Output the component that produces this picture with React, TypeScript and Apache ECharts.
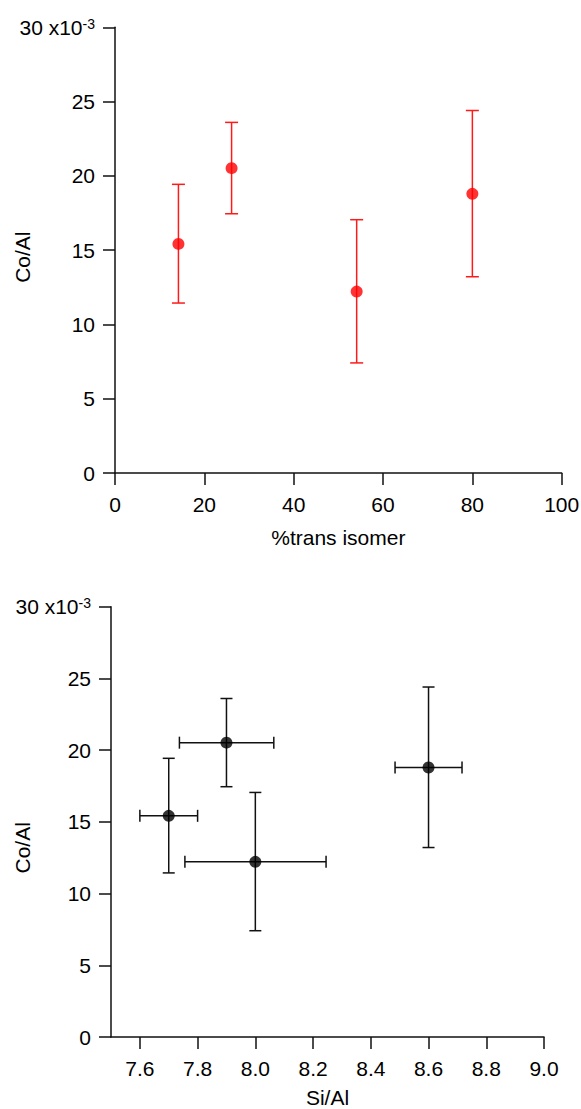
import { useEffect, useRef } from 'react';
import * as echarts from 'echarts';

// Co/Al ratios in units of 1e-3 (shared by both panels)
const coAl = [15.42, 20.52, 12.21, 18.79];
const coAlLo = [11.44, 17.45, 7.41, 13.21];
const coAlHi = [19.43, 23.6, 17.05, 24.4];

// Upper panel: percentage of trans isomer
const transIsomerPct = [14.2, 26.1, 54.1, 80.0];

// Lower panel: Si/Al ratio with its uncertainty range
const siAl = [7.7, 7.9, 8.0, 8.6];
const siAlLo = [7.6, 7.737, 7.756, 8.484];
const siAlHi = [7.8, 8.064, 8.245, 8.716];

const transTicks = [0, 20, 40, 60, 80, 100];
const siAlTicks = [7.6, 7.8, 8.0, 8.2, 8.4, 8.6, 8.8, 9.0];
const coAlTickStep = 5;

const FONT = '"Liberation Sans", Arial, Helvetica, sans-serif';
const AXIS_COLOR = '#111';

function yAxisFor(gridIndex: number, gap: number, shift: number) {
  return {
    type: 'value',
    gridIndex,
    min: 0,
    max: 30,
    interval: coAlTickStep,
    name: 'Co/Al',
    nameLocation: 'middle',
    nameGap: gap,
    nameRotate: 90,
    nameMoveOverlap: false,
    nameTextStyle: {
      fontFamily: FONT,
      fontSize: 21,
      color: '#000',
      padding: [0, shift * 2, 0, 0],
    },
    axisLine: { show: true, onZero: false, lineStyle: { color: AXIS_COLOR, width: 1.5 } },
    axisTick: { show: true, inside: false, length: 12, lineStyle: { color: AXIS_COLOR, width: 1.5 } },
    splitLine: { show: false },
    axisLabel: {
      margin: 20,
      fontFamily: FONT,
      fontSize: 21,
      color: '#000',
      showMinLabel: true,
      showMaxLabel: true,
      formatter: (v: number) => (v === 30 ? '{b|30 x10}{sup|-3}' : String(v)),
      rich: {
        b: { fontFamily: FONT, fontSize: 21, lineHeight: 21, color: '#000', verticalAlign: 'bottom' },
        sup: {
          fontFamily: FONT,
          fontSize: 14,
          lineHeight: 14,
          color: '#000',
          verticalAlign: 'top',
          padding: [0, 0, 13, 0],
        },
      },
    },
  };
}

const lineSeg = (x1: number, y1: number, x2: number, y2: number, color: string) => ({
  type: 'line',
  shape: { x1, y1, x2, y2 },
  style: { stroke: color, lineWidth: 1.5 },
});

export default function App() {
  const ref = useRef<HTMLDivElement>(null);

  useEffect(() => {
    if (!ref.current) return;
    const chart = echarts.init(ref.current, undefined, { renderer: 'svg' });

    const topData = transIsomerPct.map((x, i) => [x, coAl[i], coAlLo[i], coAlHi[i]]);
    const bottomData = siAl.map((x, i) => [x, coAl[i], coAlLo[i], coAlHi[i], siAlLo[i], siAlHi[i]]);

    const option = {
      animation: false,
      backgroundColor: '#fff',
      grid: [
        { left: 115, top: 27.3, right: 19.3, height: 445.7, containLabel: false, outerBoundsMode: 'none' },
        { left: 111, top: 606.7, right: 37, height: 430.3, containLabel: false, outerBoundsMode: 'none' },
      ],
      xAxis: [
        {
          type: 'value',
          gridIndex: 0,
          min: 0,
          max: 100,
          interval: 20,
          name: '%trans isomer',
          nameLocation: 'middle',
          nameGap: 54,
          nameMoveOverlap: false,
          nameTextStyle: { fontFamily: FONT, fontSize: 21, color: '#000' },
          axisLine: { show: true, onZero: false, lineStyle: { color: AXIS_COLOR, width: 1.5 } },
          axisTick: { show: true, length: 12, lineStyle: { color: AXIS_COLOR, width: 1.5 } },
          splitLine: { show: false },
          axisLabel: {
            margin: 21,
            fontFamily: FONT,
            fontSize: 21,
            color: '#000',
            showMinLabel: true,
            showMaxLabel: true,
            customValues: transTicks,
          },
        },
        {
          type: 'value',
          gridIndex: 1,
          min: 7.5,
          max: 9.0,
          name: 'Si/Al',
          nameLocation: 'middle',
          nameGap: 50,
          nameMoveOverlap: false,
          nameTextStyle: { fontFamily: FONT, fontSize: 21, color: '#000' },
          axisLine: { show: true, onZero: false, lineStyle: { color: AXIS_COLOR, width: 1.5 } },
          axisTick: {
            show: true,
            length: 12,
            customValues: siAlTicks,
            lineStyle: { color: AXIS_COLOR, width: 1.5 },
          },
          splitLine: { show: false },
          axisLabel: {
            margin: 21,
            fontFamily: FONT,
            fontSize: 21,
            color: '#000',
            customValues: siAlTicks,
            formatter: (v: number) => v.toFixed(1),
          },
        },
      ],
      yAxis: [yAxisFor(0, 82, 7), yAxisFor(1, 78, 26)],
      series: [
        {
          type: 'custom',
          xAxisIndex: 0,
          yAxisIndex: 0,
          data: topData,
          encode: { x: [0], y: [1, 2, 3] },
          renderItem: (_p: any, api: any) => {
            const x = api.value(0);
            const lo = api.coord([x, api.value(2)]);
            const hi = api.coord([x, api.value(3)]);
            const c = '#ff1a1a';
            const h = 6.5;
            return {
              type: 'group',
              children: [
                lineSeg(lo[0], lo[1], hi[0], hi[1], c),
                lineSeg(lo[0] - h, lo[1], lo[0] + h, lo[1], c),
                lineSeg(hi[0] - h, hi[1], hi[0] + h, hi[1], c),
              ],
            };
          },
          z: 2,
        },
        {
          type: 'scatter',
          xAxisIndex: 0,
          yAxisIndex: 0,
          data: topData.map((d) => [d[0], d[1]]),
          symbol: 'circle',
          symbolSize: 12,
          itemStyle: { color: '#ff0000' },
          z: 3,
        },
        {
          type: 'custom',
          xAxisIndex: 1,
          yAxisIndex: 1,
          data: bottomData,
          encode: { x: [0, 4, 5], y: [1, 2, 3] },
          renderItem: (_p: any, api: any) => {
            const x = api.value(0);
            const y = api.value(1);
            const yLo = api.coord([x, api.value(2)]);
            const yHi = api.coord([x, api.value(3)]);
            const xLo = api.coord([api.value(4), y]);
            const xHi = api.coord([api.value(5), y]);
            const c = '#111';
            const h = 6;
            return {
              type: 'group',
              children: [
                lineSeg(yLo[0], yLo[1], yHi[0], yHi[1], c),
                lineSeg(yLo[0] - h, yLo[1], yLo[0] + h, yLo[1], c),
                lineSeg(yHi[0] - h, yHi[1], yHi[0] + h, yHi[1], c),
                lineSeg(xLo[0], xLo[1], xHi[0], xHi[1], c),
                lineSeg(xLo[0], xLo[1] - h, xLo[0], xLo[1] + h, c),
                lineSeg(xHi[0], xHi[1] - h, xHi[0], xHi[1] + h, c),
              ],
            };
          },
          z: 2,
        },
        {
          type: 'scatter',
          xAxisIndex: 1,
          yAxisIndex: 1,
          data: bottomData.map((d) => [d[0], d[1]]),
          symbol: 'circle',
          symbolSize: 12,
          itemStyle: { color: '#000' },
          z: 3,
        },
      ],
    };

    chart.setOption(option as any);
    return () => chart.dispose();
  }, []);

  return (
    <div
      ref={ref}
      style={{ position: 'absolute', left: 0, top: 0, width: 581, height: 1109, background: '#fff' }}
    />
  );
}
